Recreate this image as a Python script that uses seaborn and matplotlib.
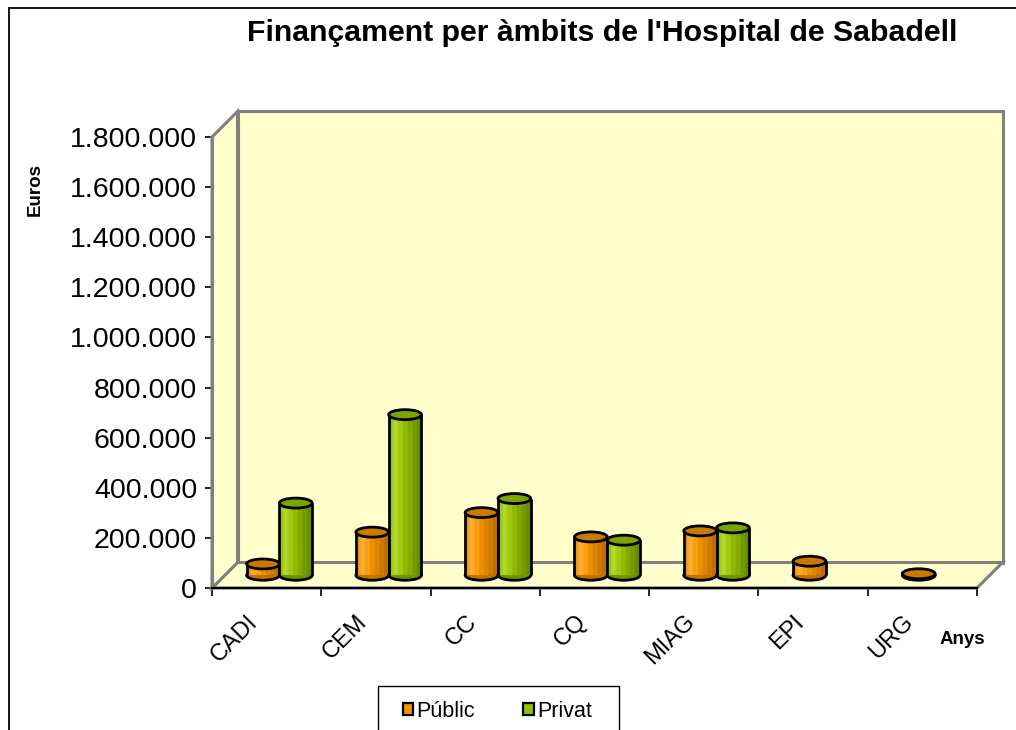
import numpy as np
import pandas as pd
import matplotlib
matplotlib.use("Agg")
import matplotlib.pyplot as plt
import matplotlib.transforms as mtransforms
from matplotlib.patches import Polygon, Ellipse, Patch, Rectangle
from matplotlib.lines import Line2D
from matplotlib.colors import LinearSegmentedColormap
from matplotlib.ticker import FuncFormatter, FixedLocator
import seaborn as sns

# ---------------- data ----------------
categories = ["CADI", "CEM", "CC", "CQ", "MIAG", "EPI", "URG"]
public_vals = [45000, 172000, 250000, 153000, 177000, 56000, 6000]
private_vals = [288000, 641000, 306000, 140000, 189000, np.nan, np.nan]
series_names = ["Públic", "Privat"]
yticks_vals = [0, 200000, 400000, 600000, 800000, 1000000, 1200000, 1400000, 1600000, 1800000]
title_text = "Finançament per àmbits de l'Hospital de Sabadell"
ylabel_text = "Euros"
xlabel_text = "Anys"

df = pd.DataFrame({
    "cat": categories * 2,
    "series": [series_names[0]] * len(categories) + [series_names[1]] * len(categories),
    "value": public_vals + private_vals,
})

# ---------------- style ----------------
sns.set_style("white")
plt.rcParams["font.family"] = ["Liberation Sans", "DejaVu Sans"]
plt.rcParams["text.color"] = "black"
plt.rcParams["xtick.color"] = "black"
plt.rcParams["ytick.color"] = "black"
plt.rcParams["axes.labelcolor"] = "black"

W, H = 1016, 730
fig = plt.figure(figsize=(W / 100, H / 100), dpi=100)
fig.patch.set_facecolor("white")

# front axes (pixel box: x 212..977, y 137..588)
L, R, T, B = 212, 977, 137, 588
pos = [L / W, (H - B) / H, (R - L) / W, (B - T) / H]
ax = fig.add_axes(pos)
ax.set_facecolor("none")
ax.set_xlim(-0.5, len(categories) - 0.5)
ax.set_ylim(0, 1800000)

depth = 25.5  # px
dx = depth / (R - L)
dy = depth / (B - T)
wall_c = "#FFFFCC"
edge_c = "#808080"
tr = ax.transAxes
# back wall, floor, side wall
ax.add_patch(Polygon([(dx, dy), (1 + dx, dy), (1 + dx, 1 + dy), (dx, 1 + dy)], closed=True,
                     transform=tr, facecolor=wall_c, edgecolor=edge_c, lw=2.2, clip_on=False, zorder=0.5))
ax.add_patch(Polygon([(0, 0), (1, 0), (1 + dx, dy), (dx, dy)], closed=True,
                     transform=tr, facecolor=wall_c, edgecolor=edge_c, lw=2.2, clip_on=False, zorder=0.6))
ax.add_patch(Polygon([(0, 0), (dx, dy), (dx, 1 + dy), (0, 1)], closed=True,
                     transform=tr, facecolor=wall_c, edgecolor=edge_c, lw=2.2, clip_on=False, zorder=0.6))

for s in ["top", "right"]:
    ax.spines[s].set_visible(False)
ax.spines["left"].set_color(edge_c)
ax.spines["left"].set_linewidth(2.2)
ax.spines["bottom"].set_color("black")
ax.spines["bottom"].set_linewidth(1.6)
ax.spines["left"].set_zorder(3)
ax.spines["bottom"].set_zorder(3)

ax.yaxis.set_major_locator(FixedLocator(yticks_vals))
ax.yaxis.set_major_formatter(FuncFormatter(lambda v, p: f"{int(round(v)):,}".replace(",", ".")))
ax.tick_params(axis="y", which="major", direction="out", length=5.2, width=1.2, color="black",
               labelsize=20.5, pad=5.5, left=True, labelcolor="black")

ax.set_xticks(range(len(categories)))
ax.set_xticklabels(categories)
ax.xaxis.set_minor_locator(FixedLocator(np.arange(-0.5, len(categories), 1.0)))
ax.tick_params(axis="x", which="major", length=0, labelsize=17, pad=22, labelcolor="black")
ax.tick_params(axis="x", which="minor", direction="out", length=6, width=1.2, color="black", bottom=True)
minor_ticks = ax.xaxis.get_minor_ticks()
minor_ticks[0].tick1line.set_color(edge_c)
minor_ticks[-1].tick1line.set_color(edge_c)
offset = mtransforms.ScaledTranslation(-12 / 100, 0, fig.dpi_scale_trans)
for lab in ax.get_xticklabels():
    lab.set_rotation(45)
    lab.set_ha("right")
    lab.set_va("center")
    lab.set_rotation_mode("anchor")
    lab.set_transform(lab.get_transform() + offset)
ax.set_xlabel("")
ax.set_ylabel("")

# bars axes: shifted by half the depth
half = depth / 2
pos2 = [(L + half) / W, (H - B + half) / H, (R - L) / W, (B - T) / H]
axb = fig.add_axes(pos2)
axb.set_facecolor("none")

pal = {"Públic": "#F29400", "Privat": "#92C000"}
sns.barplot(data=df, x="cat", y="value", hue="series", order=categories, hue_order=series_names,
            palette=pal, width=0.6, dodge=True, errorbar=None, legend=False, ax=axb,
            edgecolor="none", linewidth=0)
axb.set_xlim(-0.5, len(categories) - 0.5)
axb.set_ylim(0, 1800000)
axb.set_axis_off()

cmaps = {
    "Públic": LinearSegmentedColormap.from_list("o", [(0, "#E08400"), (0.18, "#FFB23A"), (0.45, "#F29400"), (1, "#B56A00")]),
    "Privat": LinearSegmentedColormap.from_list("g", [(0, "#88B400"), (0.18, "#B4DC30"), (0.45, "#93C000"), (1, "#628400")]),
}
top_col = {"Públic": "#C97A00", "Privat": "#7AA400"}
bot_col = {"Públic": "#C07200", "Privat": "#6E9400"}

px_per_unit = (B - T) / 1800000.0
eh = 10.0 / px_per_unit  # ellipse height in data units

grad = np.linspace(0, 1, 80)
stripes = 0.06 * np.sin(np.linspace(0, 14 * np.pi, 80))
grad_img = np.clip(grad + stripes * (grad > 0.3), 0, 1)[None, :]

for k, (name, cont) in enumerate(zip(series_names, axb.containers)):
    for j, p in enumerate(cont.patches):
        h = p.get_height()
        if not np.isfinite(h) or h <= 0:
            p.set_visible(False)
            continue
        x0 = p.get_x()
        w = p.get_width()
        xc = x0 + w / 2
        z = 2 + k + j * 0.001
        p.set_zorder(z + 0.1)
        p.set_facecolor(cmaps[name](0.5))
        p.set_clip_on(False)
        axb.add_patch(Ellipse((xc, 0), w, eh, facecolor=bot_col[name], edgecolor="black", lw=2.0,
                              zorder=z, clip_on=False))
        im = axb.imshow(grad_img, extent=(x0, x0 + w, 0, h), aspect="auto", cmap=cmaps[name],
                        vmin=0, vmax=1, interpolation="bilinear", zorder=z + 0.2)
        im.set_clip_on(False)
        axb.plot([x0, x0], [0, h], color="black", lw=2.0, zorder=z + 0.3, solid_capstyle="butt", clip_on=False)
        axb.plot([x0 + w, x0 + w], [0, h], color="black", lw=2.0, zorder=z + 0.3, solid_capstyle="butt", clip_on=False)
        axb.add_patch(Ellipse((xc, h), w, eh, facecolor=top_col[name], edgecolor="black", lw=2.0,
                              zorder=z + 0.4, clip_on=False))

axb.set_xlim(-0.5, len(categories) - 0.5)
axb.set_ylim(0, 1800000)

# texts
fig.text(602 / W, 1 - 33 / H, title_text, ha="center", va="center", fontsize=21.8, fontweight="bold")
fig.text(35 / W, 1 - 190 / H, ylabel_text, ha="center", va="center", rotation=90, fontsize=13.5, fontweight="bold")
fig.text(962 / W, 1 - 640 / H, xlabel_text, ha="center", va="center", fontsize=13.5, fontweight="bold")

# legend (frame drawn separately as a box)
fig.add_artist(Rectangle((377.5 / W, 1 - 745 / H), 241 / W, 59 / H, transform=fig.transFigure,
                         facecolor="white", edgecolor="black", lw=1.0, zorder=5))
handles = [Patch(facecolor=pal[n], edgecolor="black", lw=1.6, label=n) for n in series_names]
leg = fig.legend(handles=handles, loc="upper left", bbox_to_anchor=(402.5 / W, 1 - 701 / H), ncol=2,
                 frameon=False, fontsize=15.5, handlelength=0.5, handleheight=0.5,
                 handletextpad=0.14, columnspacing=2.25, borderpad=0, borderaxespad=0)
leg.set_zorder(6)

# outer chart border (left and top visible)
fig.add_artist(Line2D([8.5 / W, 8.5 / W], [0, 1 - 7.5 / H], color="black", lw=1.3, transform=fig.transFigure))
fig.add_artist(Line2D([8.5 / W, 1], [1 - 7.5 / H, 1 - 7.5 / H], color="black", lw=1.3, transform=fig.transFigure))

fig.savefig("out.png", dpi=100)
